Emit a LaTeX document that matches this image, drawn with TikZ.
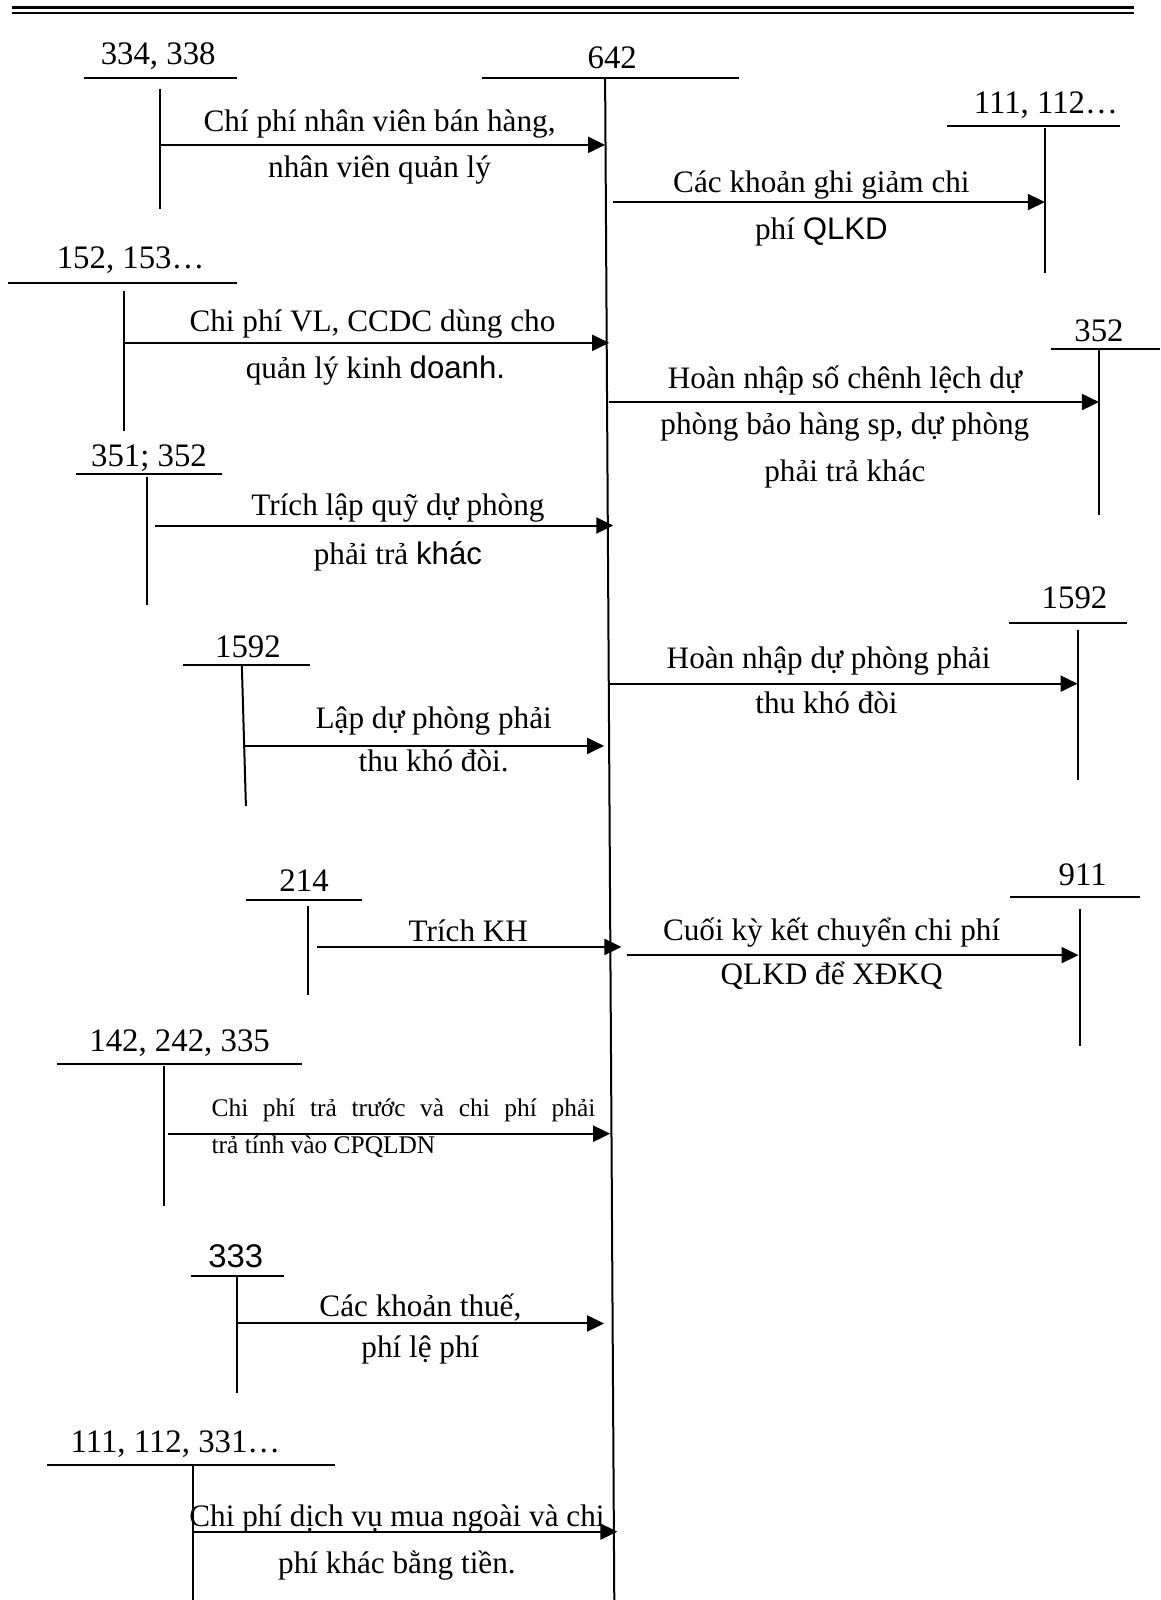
\documentclass[tikz,border=0pt]{standalone}
\usepackage{fontspec}
\setmainfont{Liberation Serif}
\setsansfont{Liberation Sans}
\usetikzlibrary{arrows.meta}
\tikzset{
  acct/.style={font=\fontsize{16.4}{19}\selectfont, inner sep=0pt, yshift=-1pt},
  lbl/.style={font=\fontsize{15.6}{19}\selectfont, inner sep=0pt, yshift=-1.6pt},
  small/.style={font=\fontsize{12.7}{14}\selectfont, inner sep=0pt, anchor=west, yshift=-0.5pt},
  tline/.style={line width=1pt},
  arr/.style={line width=1pt, -{Triangle[length=8.5pt,width=8pt]}},
  dbl/.style={line width=1.1pt}
}
\begin{document}
\begin{tikzpicture}[x=0.5101pt,y=-0.5101pt]
\useasboundingbox (0,0) rectangle (1137,1568);
% top double rule
\draw[dbl] (12,7.4) -- (1111,7.4);
\draw[dbl] (12,12.8) -- (1111,12.8);

% central account 642
\node[acct] (n642) at (600,55) {642};
\draw[tline] (472,76) -- (724,76);
\coordinate (ctop) at (593,76);
\coordinate (cbot) at (602,1568);
\draw[tline] (ctop) -- (cbot);

% ---- left 1: 334, 338
\node[acct] (a334) at (155,53) {334, 338};
\draw[tline] (82,76) -- (232,76);
\coordinate (v334t) at (157,87); \coordinate (v334b) at (157,205);
\draw[tline] (v334t) -- (v334b);
\coordinate (s1) at (157,142); \coordinate (e1) at (593,142);
\draw[arr] (s1) -- (e1);
\node[lbl] (t1a) at (372,118) {Chí phí nhân viên bán hàng,};
\node[lbl] (t1b) at (372,163) {nhân viên quản lý};

% ---- left 2: 152, 153
\node[acct] (a152) at (128,253) {152, 153…};
\draw[tline] (8,277) -- (232,277);
\coordinate (v152t) at (122,285); \coordinate (v152b) at (122,422);
\draw[tline] (v152t) -- (v152b);
\coordinate (s2) at (122,336); \coordinate (e2) at (597,336);
\draw[arr] (s2) -- (e2);
\node[lbl] (t2a) at (365,314) {Chi phí VL, CCDC dùng cho};
\node[lbl] (t2b) at (368,360) {quản lý kinh \textsf{doanh.}};

% ---- left 3: 351; 352
\node[acct] (a351) at (146,447) {351; 352};
\draw[tline] (74,465) -- (218,465);
\coordinate (v351t) at (144,467); \coordinate (v351b) at (144,593);
\draw[tline] (v351t) -- (v351b);
\coordinate (s3) at (152,515); \coordinate (e3) at (601,515);
\draw[arr] (s3) -- (e3);
\node[lbl] (t3a) at (390,495) {Trích lập quỹ dự phòng};
\node[lbl] (t3b) at (390,542) {phải trả \textsf{khác}};

% ---- left 4: 1592
\node[acct] (a1592l) at (243,632) {1592};
\draw[tline] (179,652) -- (304,652);
\coordinate (v159t) at (237,652); \coordinate (v159b) at (241,790);
\draw[tline] (v159t) -- (v159b);
\coordinate (s4) at (240,731); \coordinate (e4) at (592,731);
\draw[arr] (s4) -- (e4);
\node[lbl] (t4a) at (425,703) {Lập dự phòng phải};
\node[lbl] (t4b) at (425,743) {thu khó đòi.};

% ---- left 5: 214
\node[acct] (a214) at (298,861) {214};
\draw[tline] (241,882) -- (355,882);
\coordinate (v214t) at (302,888); \coordinate (v214b) at (302,975);
\draw[tline] (v214t) -- (v214b);
\coordinate (s5) at (311,928); \coordinate (e5) at (609,928);
\draw[arr] (s5) -- (e5);
\node[lbl] (t5a) at (459,909) {Trích KH};

% ---- left 6: 142, 242, 335
\node[acct] (a142) at (176,1020) {142, 242, 335};
\draw[tline] (56,1043) -- (296,1043);
\coordinate (v142t) at (161,1045); \coordinate (v142b) at (161,1182);
\draw[tline] (v142t) -- (v142b);
\coordinate (s6) at (165,1111); \coordinate (e6) at (598,1111);
\draw[arr] (s6) -- (e6);
\node[small] (t6a) at (207,1087) {\makebox[191.8pt][s]{Chi phí trả trước và chi phí phải}};
\node[small] (t6b) at (207,1123) {trả tính vào CPQLDN};

% ---- left 7: 333
\node[acct,font=\sffamily\fontsize{16.4}{19}\selectfont] (a333) at (231,1229) {333};
\draw[tline] (187,1250) -- (278,1250);
\coordinate (v333t) at (232,1250); \coordinate (v333b) at (232,1365);
\draw[tline] (v333t) -- (v333b);
\coordinate (s7) at (232,1297); \coordinate (e7) at (592,1297);
\draw[arr] (s7) -- (e7);
\node[lbl] (t7a) at (412,1278) {Các khoản thuế,};
\node[lbl] (t7b) at (412,1320) {phí lệ phí};

% ---- left 8: 111, 112, 331
\node[acct] (a111l) at (172,1413) {111, 112, 331…};
\draw[tline] (46,1436) -- (328,1436);
\coordinate (v111t) at (189,1437); \coordinate (v111b) at (189,1568);
\draw[tline] (v111t) -- (v111b);
\coordinate (s8) at (189,1501); \coordinate (e8) at (605,1501);
\draw[arr] (s8) -- (e8);
\node[lbl] (t8a) at (389,1485) {Chi phí dịch vụ mua ngoài và chi};
\node[lbl] (t8b) at (389,1531) {phí khác bằng tiền.};

% ---- right A: 111, 112
\node[acct] (a111r) at (1025,101) {111, 112…};
\draw[tline] (928,123) -- (1098,123);
\coordinate (vAt) at (1024,125); \coordinate (vAb) at (1024,268);
\draw[tline] (vAt) -- (vAb);
\coordinate (sA) at (601,198); \coordinate (eA) at (1024,198);
\draw[arr] (sA) -- (eA);
\node[lbl] (tAa) at (805,178) {Các khoản ghi giảm chi};
\node[lbl] (tAb) at (805,224) {phí \textsf{QLKD}};

% ---- right B: 352
\node[acct] (a352r) at (1077,322) {352};
\draw[tline] (1030,342) -- (1137,342);
\coordinate (vBt) at (1077,342); \coordinate (vBb) at (1077,505);
\draw[tline] (vBt) -- (vBb);
\coordinate (sB) at (597,394); \coordinate (eB) at (1077,394);
\draw[arr] (sB) -- (eB);
\node[lbl] (tBa) at (828,370) {Hoàn nhập số chênh lệch dự};
\node[lbl] (tBb) at (828,415) {phòng bảo hàng sp, dự phòng};
\node[lbl] (tBc) at (828,461) {phải trả khác};

% ---- right C: 1592
\node[acct] (a1592r) at (1053,584) {1592};
\draw[tline] (989,611) -- (1104,611);
\coordinate (vCt) at (1056,617); \coordinate (vCb) at (1056,764);
\draw[tline] (vCt) -- (vCb);
\coordinate (sC) at (597,670); \coordinate (eC) at (1056,670);
\draw[arr] (sC) -- (eC);
\node[lbl] (tCa) at (812,645) {Hoàn nhập dự phòng phải};
\node[lbl] (tCb) at (810,686) {thu khó đòi};

% ---- right D: 911
\node[acct] (a911) at (1061,855) {911};
\draw[tline] (990,879) -- (1117,879);
\coordinate (vDt) at (1058,891); \coordinate (vDb) at (1058,1025);
\draw[tline] (vDt) -- (vDb);
\coordinate (sD) at (614,936); \coordinate (eD) at (1057,936);
\draw[arr] (sD) -- (eD);
\node[lbl] (tDa) at (815,911) {Cuối kỳ kết chuyển chi phí};
\node[lbl] (tDb) at (815,953) {QLKD để XĐKQ};
\end{tikzpicture}
\end{document}
